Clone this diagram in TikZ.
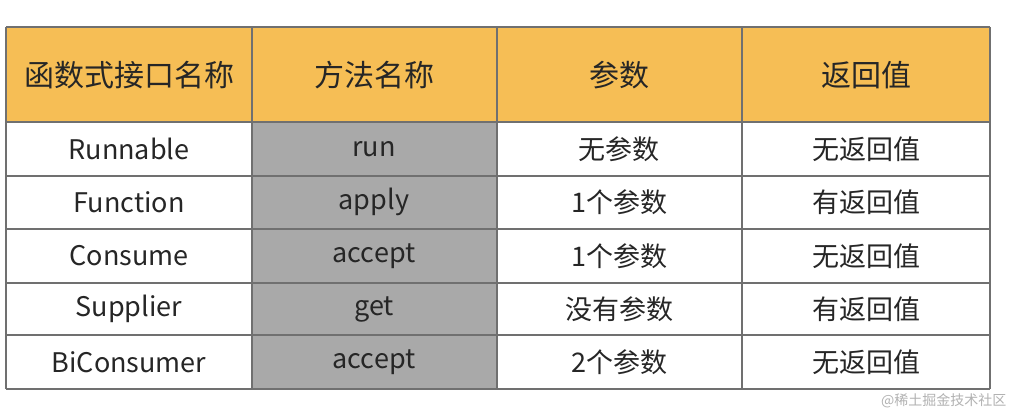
\documentclass[tikz,border=0pt]{standalone}
\usepackage{fontspec}
\setmainfont{Noto Sans CJK SC}
\definecolor{hdr}{HTML}{F6BE55}
\definecolor{gry}{HTML}{A9A9A9}
\definecolor{ln}{HTML}{707070}
\begin{document}
\begin{tikzpicture}[x=1pt,y=-1pt,
  cell/.style={font=\fontsize{27}{30}\selectfont, text=black!85},
  hcell/.style={font=\fontsize{30}{33}\selectfont, text=black!85},
  wm/.style={font=\fontsize{14}{16}\selectfont, text=black!30, anchor=east}]
\useasboundingbox (0,0) rectangle (1019,416);
\fill[white] (0,0) rectangle (1019,416);
\fill[hdr] (6,27) rectangle (990,122);
\fill[gry] (252,122) rectangle (497,389);
\foreach \y in {27,122,176,229,283,335,389} \draw[ln,line width=1.8pt] (6,\y) -- (990,\y);
\foreach \x in {6,252,497,742,990} \draw[ln,line width=1.2pt] (\x,27) -- (\x,389);
\node[hcell] (h1) at (129,75) {函数式接口名称};
\node[hcell] (h2) at (374,75) {方法名称};
\node[hcell] (h3) at (619,75) {参数};
\node[hcell] (h4) at (866,75) {返回值};
\foreach \r/\y/\a/\b/\c/\d in {1/149/Runnable/run/无参数/无返回值,2/202/Function/apply/1个参数/有返回值,3/256/Consume/accept/1个参数/无返回值,4/309/Supplier/get/没有参数/有返回值,5/362/BiConsumer/accept/2个参数/无返回值}{
  \node[cell] (a\r) at (129,\y) {\a};
  \node[cell] (b\r) at (374,\y) {\b};
  \node[cell] (c\r) at (619,\y) {\c};
  \node[cell] (d\r) at (866,\y) {\d};
}
\node[wm] (w) at (1010,401) {@稀土掘金技术社区};
\end{tikzpicture}
\end{document}
